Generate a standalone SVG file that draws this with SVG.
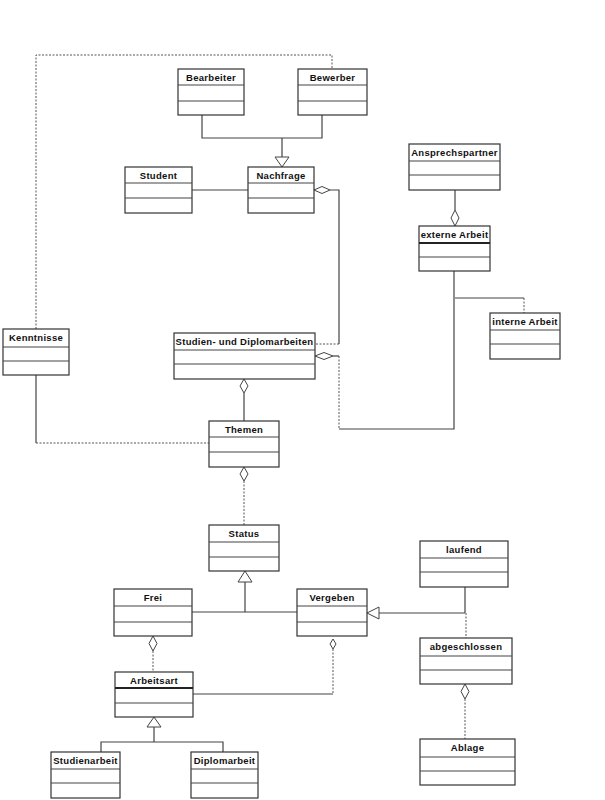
<svg xmlns="http://www.w3.org/2000/svg" width="605" height="800" viewBox="0 0 605 800">
<style>
.box{fill:#fff;stroke:#333;stroke-width:1.2}
.div{stroke:#444;stroke-width:1.2}
.thick{stroke:#222;stroke-width:2}
.t{font-family:"Liberation Sans",Arial,sans-serif;font-size:9.5px;font-weight:bold;fill:#111;text-anchor:middle;letter-spacing:0.3px}
.s{fill:none;stroke:#444;stroke-width:1.2}
.d{fill:none;stroke:#555;stroke-width:1;stroke-dasharray:2,1.5}
.h{fill:#fff;stroke:#444;stroke-width:1}
</style>
<rect width="605" height="800" fill="#fff"/>
<g id="connectors">
<path class="d" d="M36,329 V55 H332 V69"/>
<path class="s" d="M202,115 V138 H322 V115 M282,138 V157"/>
<polygon class="h" points="275,157 289,157 282,167"/>
<path class="s" d="M192,190 H248"/>
<path class="s" d="M330,190 H339 V344"/>
<path class="d" d="M339,344 H315"/>
<polygon class="h" points="314,190 322,186.5 330,190 322,193.5"/>
<path class="s" d="M333,356 H339"/>
<path class="d" d="M339,356 V429"/>
<path class="s" d="M339,429 H454 V271"/>
<polygon class="h" points="315,356 324,352.5 333,356 324,359.5"/>
<path class="s" d="M455,190 V210"/>
<polygon class="h" points="455,210 451,218 455,226 459,218"/>
<path class="s" d="M455,298 H524"/>
<path class="d" d="M524,298 V313"/>
<path class="s" d="M36,375 V443"/>
<path class="d" d="M36,443 H209"/>
<path class="s" d="M244,393 V421"/>
<polygon class="h" points="244,379 240,386 244,393 248,386"/>
<path class="d" d="M244,481 V525"/>
<polygon class="h" points="244,467 240,474 244,481 248,474"/>
<path class="s" d="M245,582 V612 M192,612 H297"/>
<polygon class="h" points="245,571 238,582 252,582"/>
<path class="s" d="M379,613 H465 M465,587 V613"/>
<path class="d" d="M466,613 V638"/>
<polygon class="h" points="367,613 379,607 379,619"/>
<path class="d" d="M465,699 V739"/>
<polygon class="h" points="465,684 461,691.5 465,699 469,691.5"/>
<path class="d" d="M153,651 V672"/>
<polygon class="h" points="153,636 149,643.5 153,651 157,643.5"/>
<path class="d" d="M333,649 V694"/>
<path class="s" d="M333,694 H193"/>
<polygon class="h" points="333,639 330,644 333,649 336,644"/>
<path class="s" d="M154,727 V742 M101,752 V742 H223 V752"/>
<polygon class="h" points="154,717 147,727 161,727"/>
</g>
<g id="Bearbeiter"><rect class="box" x="178" y="69" width="66" height="46"/><path class="div" d="M178,85 H244 M178,101 H244"/><text class="t" x="211" y="81">Bearbeiter</text></g>
<g id="Bewerber"><rect class="box" x="298" y="69" width="69" height="46"/><path class="div" d="M298,85 H367 M298,101 H367"/><text class="t" x="332.5" y="81">Bewerber</text></g>
<g id="Student"><rect class="box" x="125" y="167" width="67" height="46"/><path class="div" d="M125,183 H192 M125,198 H192"/><text class="t" x="158.5" y="179">Student</text></g>
<g id="Nachfrage"><rect class="box" x="248" y="167" width="66" height="46"/><path class="div" d="M248,183 H314 M248,198 H314"/><text class="t" x="281" y="179">Nachfrage</text></g>
<g id="Ansprechspartner"><rect class="box" x="409" y="144" width="91" height="46"/><path class="div" d="M409,161 H500 M409,175 H500"/><text class="t" x="454.5" y="156" letter-spacing="0">Ansprechspartner</text></g>
<g id="externeArbeit"><rect class="box" x="419" y="226" width="71" height="45"/><path class="thick" d="M419,243 H490"/><path class="div" d="M419,257 H490"/><text class="t" x="454.5" y="238" letter-spacing="0">externe Arbeit</text></g>
<g id="interneArbeit"><rect class="box" x="490" y="313" width="70" height="46"/><path class="div" d="M490,330 H560 M490,344 H560"/><text class="t" x="525" y="325" letter-spacing="0">interne Arbeit</text></g>
<g id="Kenntnisse"><rect class="box" x="3" y="329" width="66" height="46"/><path class="div" d="M3,347 H69 M3,361 H69"/><text class="t" x="36" y="341">Kenntnisse</text></g>
<g id="StudienDiplom"><rect class="box" x="174" y="333" width="141" height="46"/><path class="div" d="M174,350 H315 M174,364 H315"/><text class="t" x="244.5" y="345">Studien- und Diplomarbeiten</text></g>
<g id="Themen"><rect class="box" x="209" y="421" width="70" height="46"/><path class="div" d="M209,437 H279 M209,452 H279"/><text class="t" x="244" y="433">Themen</text></g>
<g id="Status"><rect class="box" x="209" y="525" width="70" height="46"/><path class="div" d="M209,542 H279 M209,557 H279"/><text class="t" x="244" y="537">Status</text></g>
<g id="Frei"><rect class="box" x="114" y="589" width="78" height="47"/><path class="div" d="M114,606 H192 M114,622 H192"/><text class="t" x="153" y="601">Frei</text></g>
<g id="Vergeben"><rect class="box" x="297" y="589" width="70" height="47"/><path class="div" d="M297,606 H367 M297,622 H367"/><text class="t" x="332" y="601">Vergeben</text></g>
<g id="laufend"><rect class="box" x="420" y="541" width="88" height="46"/><path class="div" d="M420,558 H508 M420,572 H508"/><text class="t" x="464" y="553">laufend</text></g>
<g id="abgeschlossen"><rect class="box" x="420" y="638" width="92" height="46"/><path class="div" d="M420,656 H512 M420,670 H512"/><text class="t" x="466" y="650">abgeschlossen</text></g>
<g id="Ablage"><rect class="box" x="420" y="739" width="95" height="46"/><path class="div" d="M420,757 H515 M420,771 H515"/><text class="t" x="467.5" y="751">Ablage</text></g>
<g id="Arbeitsart"><rect class="box" x="115" y="672" width="78" height="45"/><path class="thick" d="M115,688 H193"/><path class="div" d="M115,703 H193"/><text class="t" x="154" y="684">Arbeitsart</text></g>
<g id="Studienarbeit"><rect class="box" x="51" y="752" width="69" height="46"/><path class="div" d="M51,769 H120 M51,783 H120"/><text class="t" x="85.5" y="764" letter-spacing="0">Studienarbeit</text></g>
<g id="Diplomarbeit"><rect class="box" x="191" y="752" width="67" height="46"/><path class="div" d="M191,769 H258 M191,783 H258"/><text class="t" x="224.5" y="764" letter-spacing="0">Diplomarbeit</text></g>
</svg>
